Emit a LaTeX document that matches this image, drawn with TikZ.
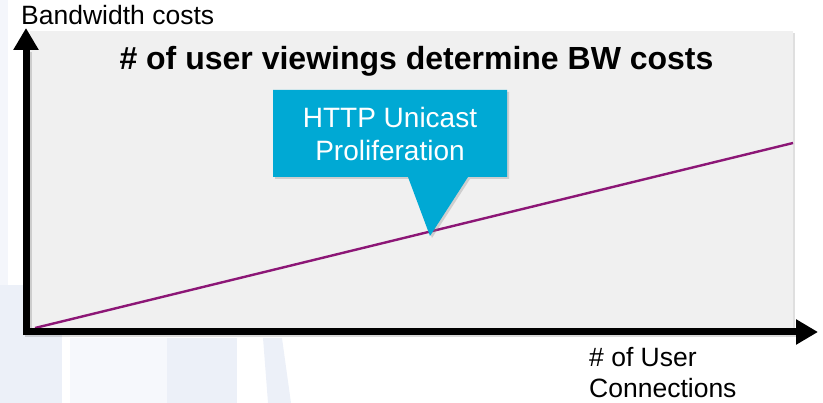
\documentclass[tikz,border=0pt]{standalone}
\usepackage{fontspec}
\setmainfont{Liberation Sans}
\usetikzlibrary{shadows,arrows.meta}
\definecolor{panelgray}{RGB}{240,240,240}
\definecolor{wmblue}{RGB}{236,240,248}
\definecolor{calloutblue}{RGB}{0,169,212}
\definecolor{trendpurple}{RGB}{140,22,118}
\tikzset{
  wmark/.style={fill=wmblue, draw=none},
  panelbox/.style={fill=panelgray, draw=none, drop shadow={shadow xshift=2pt, shadow yshift=-2pt, opacity=0.25}},
  axisline/.style={line width=7pt, line join=miter, {Triangle[length=22pt,width=24pt]}-{Triangle[length=22pt,width=24pt]}},
  axisshadow/.style={line width=7pt, line join=miter, black!60, opacity=0.25},
  trendline/.style={line width=2.4pt, trendpurple},
  calloutshape/.style={fill=calloutblue, draw=none, drop shadow={shadow xshift=2pt, shadow yshift=-2pt, opacity=0.3}},
  axislabel/.style={font=\fontsize{26.5}{31}\selectfont, inner sep=0pt, align=left},
  titletext/.style={font=\fontsize{32}{38}\selectfont\bfseries, inner sep=0pt},
  callouttext/.style={font=\fontsize{28}{33}\selectfont, text=white, inner sep=0pt, align=center}
}
\begin{document}
\begin{tikzpicture}[x=1pt,y=-1pt]
\useasboundingbox (0,0) rectangle (823,403);
% faint watermark
\fill[wmark] (0,285) rectangle (62,403);
\fill[wmblue!60] (0,0) rectangle (8,285);
\fill[wmark] (167,338) rectangle (237,403);
\fill[wmark] (263,338) -- (282,338) -- (291,403) -- (268,403) -- cycle;
\fill[wmblue!45] (70,338) rectangle (167,403);
% panel
\fill[panelbox] (30,31) rectangle (793,329);
% coordinates
\coordinate (corner) at (26,332);
\coordinate (ytip) at (26,28);
\coordinate (xtip) at (818,332);
\coordinate (lstart) at (35,328);
\coordinate (lend) at (793,143);
% trend line
\draw[trendline] (lstart) -- (lend);
% callout
\fill[calloutshape] (273,90) -- (507,90) -- (507,177) -- (468,177) -- (430,236) -- (408,177) -- (273,177) -- cycle;
\node[callouttext, anchor=base] (callout) at (390,161) {HTTP Unicast\\Proliferation};
% axes
\draw[axisshadow] ([shift={(2,2)}]26,50) -- ([shift={(2,2)}]corner) -- ([shift={(2,2)}]795,332);
\draw[axisline] (ytip) -- (corner) -- (xtip);
% labels
\node[titletext, anchor=base] (title) at (416.5,70) {\# of user viewings determine BW costs};
\node[axislabel, anchor=base west] (ylabel) at (21,25) {Bandwidth costs};
\node[axislabel, anchor=base west] (xlabel) at (589,398) {\# of User\\Connections};
\end{tikzpicture}
\end{document}
